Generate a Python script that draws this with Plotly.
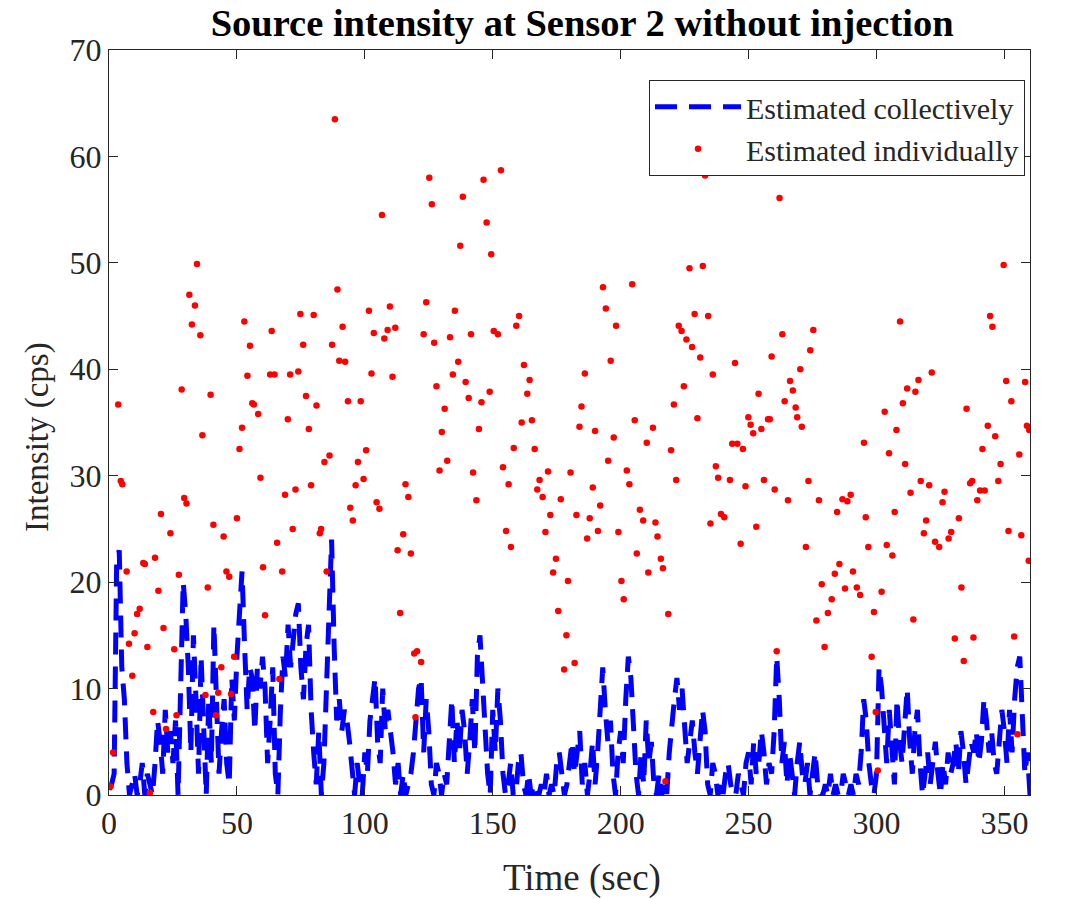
import plotly.graph_objects as go

# ---------------- data ----------------
# collective estimate: one value per second, t = 0..360
coll_time = list(range(0, 361))
coll_vals = [
    0.5, 1, 2, 22, 23, 12, 9, 3, 0, 1,
    2, 0, 1, 3, 0, 2, 1, 0, 3, 7,
    5, 2, 8, 4, 6, 3, 7, 0, 10, 20,
    17, 12, 4, 15, 9, 2, 13, 6, 0, 9,
    3, 16, 10, 2, 6, 9, 3, 1, 11, 7,
    13, 18, 21, 14, 8, 12, 11, 6, 12, 10,
    13, 10, 3, 7, 12, 2, 0, 8, 13, 11,
    16, 12, 15, 17, 18, 12, 9, 14, 16, 8,
    4, 1, 6, 0, 3, 10, 18, 24, 14, 7,
    9, 6, 8, 7, 5, 2, 0, 3, 1, 0,
    4, 2, 7, 9, 11, 5, 3, 10, 6, 8,
    6, 4, 1, 3, 0, 2, 0, 1, 2, 4,
    7, 10, 11, 4, 9, 6, 1, 0, 3, 2,
    0, 2, 1, 5, 9, 3, 7, 4, 8, 6,
    2, 5, 9, 4, 13, 15, 10, 5, 2, 0,
    8, 4, 10, 7, 2, 0, 1, 3, 0, 0,
    3, 4, 1, 0, 2, 0, 1, 0, 0, 1,
    0, 2, 0, 1, 0, 3, 4, 2, 0, 1,
    3, 5, 2, 4, 6, 1, 3, 0, 2, 5,
    1, 4, 9, 12, 8, 5, 7, 2, 0, 4,
    6, 3, 9, 13, 11, 6, 2, 0, 4, 1,
    7, 3, 5, 1, 0, 2, 0, 1, 0, 4,
    7, 9, 11, 8, 10, 6, 3, 5, 7, 4,
    2, 5, 8, 6, 1, 0, 3, 2, 0, 1,
    0, 2, 3, 1, 0, 0, 2, 1, 0, 3,
    4, 1, 5, 2, 3, 6, 4, 1, 3, 2,
    6, 13, 9, 3, 5, 1, 4, 2, 0, 3,
    5, 2, 1, 3, 0, 2, 4, 1, 0, 0,
    1, 0, 2, 0, 1, 0, 0, 2, 1, 0,
    1, 0, 2, 1, 4, 9, 7, 3, 1, 0,
    2, 12, 10, 6, 3, 8, 4, 1, 9, 5,
    3, 7, 10, 5, 2, 6, 8, 3, 0, 2,
    4, 1, 3, 5, 2, 0, 3, 1, 4, 2,
    3, 5, 2, 6, 4, 1, 3, 5, 4, 6,
    3, 5, 9, 7, 4, 6, 3, 2, 5, 8,
    6, 3, 8, 4, 9, 12, 13, 7, 2, 4,
    0,
]

# individual estimates
ind_time = [
    0.6, 1.6, 3.6, 4.6, 5.2, 6.9, 7.8, 9.1, 10, 11, 12, 13.4, 14, 15, 16, 17.3, 18, 19.3,
    20.3, 21.3, 22.3, 24, 25.5, 26.4, 27.3, 28.4, 29.4, 30.3, 31.4, 32.4, 33.6, 34.4, 35.7,
    36.5, 37.7, 38.6, 39.7, 40.8, 41.8, 42.7, 43.9, 44.8, 45.9, 47, 47.7, 48.9, 50, 51, 52,
    52.9, 54.1, 55.1, 56, 56.6, 58.3, 59.2, 60.2, 61, 63, 63.6, 64.7, 65.7, 66.6, 67.7,
    68.8, 69.9, 70.8, 71.8, 72.9, 74, 74.8, 75.9, 77, 78.1, 79, 80, 81.1, 82.4, 82.9, 84.2,
    85.1, 86.2, 87.2, 88.3, 89.3, 90, 91.3, 92.3, 93.4, 94.3, 95.3, 96.4, 97.3, 98.4, 99.5,
    100.5, 101.6, 102.6, 103.5, 104.6, 105.7, 106.7, 107.6, 108.9, 109.8, 110.8, 111.9,
    112.8, 113.8, 115, 115.9, 117, 118, 119.3, 119.8, 120.4, 122, 123, 124, 125.2, 126.2,
    127.1, 128, 129.2, 130.1, 131.2, 132.2, 133.3, 134.4, 135.2, 136.5, 137.3, 138.3, 139.4,
    140.6, 141.5, 142.3, 143.6, 144.6, 145.6, 146.4, 147.6, 148.8, 149.4, 150.4, 152, 153.2,
    154, 155.2, 156.2, 157.1, 158.2, 159.2, 160.3, 161.3, 162.2, 163.5, 164.4, 165.3, 166.4,
    167.4, 168.3, 169.5, 170.6, 171.6, 172.5, 173.6, 174.7, 175.6, 176.6, 177.9, 178.8,
    179.4, 180.4, 182, 182.7, 183.9, 184.7, 186, 186.9, 187.9, 189.1, 190, 191.1, 192,
    193.1, 194.2, 195.1, 196.1, 197.3, 198.2, 199.1, 200.3, 201.2, 202.4, 203.4, 204.5,
    205.5, 206.3, 207.5, 208.8, 210.2, 210.8, 212.6, 213.6, 214.4, 215.7, 216.5, 217.5,
    218.6, 219.7, 220.8, 221.7, 222.7, 223.8, 224.7, 225.7, 226.9, 227.9, 228.9, 230,
    231.1, 232.1, 233, 234.2, 235.1, 236, 237.2, 238.1, 239.2, 240.5, 242.7, 243.6, 244.7,
    245.6, 246.9, 247.8, 248.8, 249.9, 250.8, 251.8, 253, 253.9, 255, 256, 257.6, 258.3,
    259, 260.2, 261, 262.1, 263.2, 264.1, 265.4, 266.2, 267.3, 268.4, 269, 270.2, 270.8,
    272.4, 273.4, 274.1, 275.3, 276.5, 277.5, 278.6, 279.7, 281, 282.5, 283.7, 284.6,
    285.5, 286.7, 287.7, 288.6, 289.9, 290.8, 292.3, 293.6, 295.1, 295.8, 296.8, 298.1,
    299, 299.7, 300.5, 302, 303.2, 304, 304.9, 306.2, 307.1, 307.8, 309.2, 310.3, 311.2,
    312, 313.3, 314.4, 315.2, 316.4, 317.3, 318.5, 319.4, 320.6, 321.6, 322.9, 324.5,
    325.8, 326.6, 328.2, 329.2, 330.6, 332.2, 333.2, 334.1, 335.2, 336.6, 337.4, 337.9,
    339.4, 340.5, 341.4, 342.3, 343.5, 344.4, 345.3, 346.4, 347.6, 348.5, 349.7, 350.7,
    351.6, 352.7, 353.8, 355.1, 355.8, 356.6, 358.1, 358.8, 359.5, 359.7,
]
ind_vals = [
    0.8, 4.0, 36.7, 29.5, 29.2, 21, 14.2, 11.2, 15.2, 17, 17.5, 21.8, 21.7, 13.9, 0.2, 7.8, 22.3, 19.2,
    26.4, 15.7, 6.2, 24.6, 13.7, 7.5, 20.7, 38.1, 27.9, 27.4, 47, 44.2, 46, 49.9, 43.2,
    33.8, 9.4, 19.5, 37.6, 25.4, 7.5, 9.6, 12, 24.3, 21, 20.5, 9.5, 13, 26, 32.5, 34.5,
    44.5, 39.4, 42.2, 36.8, 36.7, 35.8, 29.8, 21.4, 16.9, 39.5, 43.6, 39.5, 23.7, 10.9, 21,
    28.2, 35.3, 39.5, 25, 28.7, 39.8, 45.2, 42.3, 37.5, 34.4, 29.1, 45.1, 36.6, 24.6, 25, 31.3,
    21, 31.9, 42.3, 63.5, 47.5, 40.8, 44, 40.7, 37, 27, 25.8, 29.1, 31.3, 37, 29.7,
    32.4, 45.5, 39.6, 43.4, 27.5, 26.9, 54.5, 42.9, 43.7, 45.9, 39.3, 43.9,
    23, 17.1, 24.5, 29.2, 28, 22.7, 13.3, 7.3, 13.5, 12.5, 43.3, 46.3, 58, 55.5,
    42.5, 38.4, 30.5, 34.1, 36.3, 31.4, 43, 39.5, 45.5, 40.7, 51.6, 56.2, 38.8,
    37.3, 43.3, 30.3, 27.7, 34.4, 36.9, 57.8, 53.8, 37.9, 50.8, 43.6, 43.3, 58.7,
    30.8, 24.8, 29.2, 23.3, 32.6, 44.1, 45, 35, 40.4, 37.7, 39, 35.2, 32.5,
    28.7, 29.6, 28, 24.7, 30.4, 26.3, 20.9, 22.2, 17.3, 27.8, 11.8, 15,
    20.1, 30.3, 12.4, 26.3, 34.6, 36.5, 39.6, 24.1, 26, 28.9, 34.2, 24.8, 27.2,
    47.7, 45.7, 31.4, 40.8, 33.6, 44.1, 24.7, 20.1, 18.4, 30.5, 29.2, 48,
    35.2, 22.7, 26.8, 25.8, 33.1, 20.9, 34.5, 25.6, 24.3, 22.2, 21.3, 1.3,
    17, 32.4, 36.7, 29.6, 44.1, 43.6, 38.4, 42.8, 49.5, 42.1, 45.2, 35.4,
    41.1, 49.7, 58.2, 45, 25.5, 39.5, 30.9, 29.8, 26.4, 26.1, 29.6, 33, 40.6,
    33, 23.6, 32.5, 29, 35.5, 34.8, 34, 25.2, 37.7, 34.4, 29.6, 35.3, 35.3,
    41.2, 28.7, 13.5, 56.1, 43.3, 37, 27.7, 38.9, 38, 36.4, 35.5, 40, 34.6,
    23.3, 29.5, 41.8, 43.7, 16.4, 27.7, 19.8, 13.9, 17.1, 18.4, 20.8, 26.6,
    21.7, 27.8, 19.4, 27.6, 28.2, 21, 19.5, 18.8, 33.1, 26.1, 23.3, 13,
    17.2, 7.8, 2.3, 19.1, 36, 23.5, 32.1, 22.5, 26.6, 34.3, 44.5, 36.8, 31.1,
    38.2, 28.4, 16.5, 37.9, 39, 29.5, 24.6, 25.8, 29.1, 39.7, 23.8, 23.3,
    27.5, 28.5, 24.1, 24.7, 14.7, 26, 19.5, 12.6, 36.3, 29.3, 29.5, 14.8,
    27.7, 28.6, 32.5, 28.6, 34.7, 45, 44, 33.7, 29.5, 31.1, 49.8, 38.9,
    24.8, 37, 14.9, 5.7, 32, 24.4, 38.8, 34.7, 22, 34.3,
]

x_ticks = [0, 50, 100, 150, 200, 250, 300, 350]
y_ticks = [0, 10, 20, 30, 40, 50, 60, 70]

FONT = "Liberation Serif"
AXIS_COLOR = "#262626"

fig = go.Figure()
fig.add_trace(go.Scatter(
    x=coll_time, y=coll_vals, mode="lines",
    name="Estimated collectively",
    line=dict(color="#0000FF", width=5, dash="22px,12px"),
))
fig.add_trace(go.Scatter(
    x=ind_time, y=ind_vals, mode="markers",
    name="Estimated individually",
    marker=dict(color="#FF0000", size=6.5),
))

axis_common = dict(
    showline=True, linecolor=AXIS_COLOR, linewidth=1, mirror="ticks",
    ticks="inside", ticklen=9, tickcolor=AXIS_COLOR, tickwidth=1,
    showgrid=False, zeroline=False, automargin=False,
    tickfont=dict(family=FONT, size=32, color=AXIS_COLOR),
)

fig.update_layout(
    width=1076, height=899,
    margin=dict(l=109, r=46, t=50, b=104),
    paper_bgcolor="white", plot_bgcolor="white",
    title=dict(
        text="<b>Source intensity at Sensor 2 without injection</b>",
        font=dict(family=FONT, size=38.5, color="black"),
        x=0.541, xanchor="center", y=0.9755, yanchor="middle",
    ),
    xaxis=dict(range=[0, 360], tickvals=x_ticks, **axis_common),
    yaxis=dict(range=[0, 70], tickvals=y_ticks, **axis_common),
    legend=dict(
        x=0.9946, xanchor="right", y=0.96, yanchor="top",
        bgcolor="white", bordercolor="#262626", borderwidth=1,
        font=dict(family=FONT, size=30, color=AXIS_COLOR),
        itemwidth=86,
    ),
    showlegend=True,
    annotations=[
        dict(text="Time (sec)", xref="paper", yref="paper", x=0.5136, y=-0.1114,
             xanchor="center", yanchor="middle", showarrow=False,
             font=dict(family=FONT, size=37, color=AXIS_COLOR)),
        dict(text="Intensity (cps)", xref="paper", yref="paper", x=-0.0782, y=0.4805,
             xanchor="center", yanchor="middle", showarrow=False, textangle=-90,
             font=dict(family=FONT, size=33, color=AXIS_COLOR)),
    ],
)

fig.write_html("out.html")
